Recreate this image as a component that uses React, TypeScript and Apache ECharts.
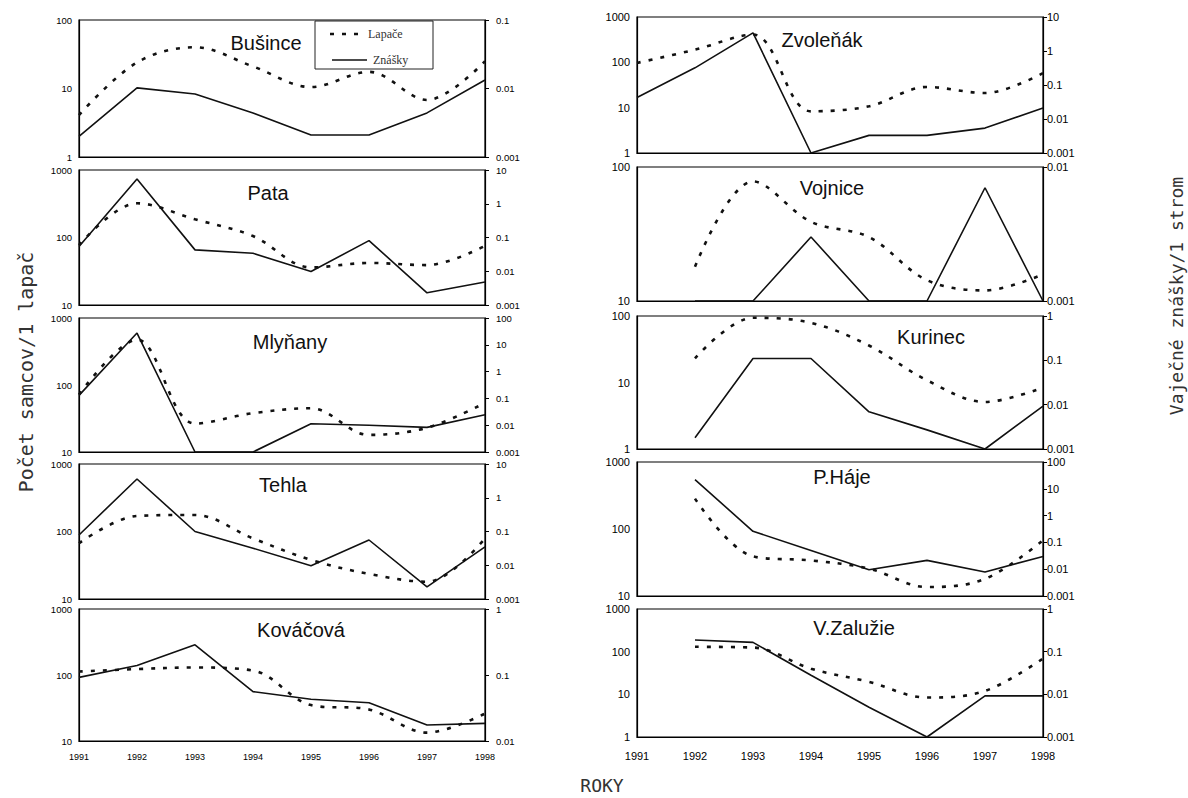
import React, { useEffect, useRef } from "react";
import * as echarts from "echarts";

const years = ["1991", "1992", "1993", "1994", "1995", "1996", "1997", "1998"];

// Lapače (males per trap, left axis) and Znášky (egg clutches per tree, right axis)
const businceLap = [4.1, 24, 40, 21, 10.5, 17.5, 6.8, 25];
const businceZn = [0.002, 0.0102, 0.0083, 0.0044, 0.0021, 0.0021, 0.0044, 0.0133];
const zvolenakLap = [97, 190, 410, 8.3, 10.7, 28.6, 21, 58];
const zvolenakZn = [0.043, 0.32, 3.4, 0.001, 0.0033, 0.0033, 0.0054, 0.021];
const pataLap = [77, 321, 186, 105, 36, 42, 39, 75];
const pataZn = [0.054, 5.4, 0.043, 0.034, 0.0098, 0.081, 0.0023, 0.0048];
const vojniceLap = [null, 18, 78, 39, 30, 14.3, 12, 15.8];
const vojniceZn = [null, 0.001, 0.001, 0.003, 0.001, 0.001, 0.007, 0.001];
const mlynanyLap = [72, 475, 26.5, 38, 45, 18, 23, 54];
const mlynanyZn = [0.13, 27.5, 0.001, 0.001, 0.0114, 0.0099, 0.0083, 0.0247];
const kurinecLap = [null, 23, 94, 79, 36, 10.8, 5.1, 8.4];
const kurinecZn = [null, 0.0018, 0.11, 0.11, 0.0069, 0.0027, 0.001, 0.0093];
const tehlaLap = [67, 170, 176, 79, 38, 23.5, 18, 79];
const tehlaZn = [0.079, 3.6, 0.1, 0.032, 0.0097, 0.056, 0.0023, 0.035];
const phajeLap = [null, 284, 39, 34, 25.6, 13.6, 18, 68];
const phajeZn = [null, 21.9, 0.26, 0.05, 0.0096, 0.0214, 0.0079, 0.03];
const kovacovaLap = [113, 123, 130, 117, 35, 30, 13.4, 26];
const kovacovaZn = [0.092, 0.139, 0.287, 0.056, 0.043, 0.038, 0.0175, 0.0185];
const zaluzieLap = [null, 130, 125, 40, 19.6, 8.4, 12, 69];
const zaluzieZn = [null, 0.187, 0.165, 0.028, 0.005, 0.001, 0.0092, 0.0092];

const panelNames = ["Bušince", "Zvoleňák", "Pata", "Vojnice", "Mlyňany", "Kurinec", "Tehla", "P.Háje", "Kováčová", "V.Zalužie"];
const lapSeries = [businceLap, zvolenakLap, pataLap, vojniceLap, mlynanyLap, kurinecLap, tehlaLap, phajeLap, kovacovaLap, zaluzieLap];
const znSeries = [businceZn, zvolenakZn, pataZn, vojniceZn, mlynanyZn, kurinecZn, tehlaZn, phajeZn, kovacovaZn, zaluzieZn];
const leftRanges = [[1, 100], [1, 1000], [10, 1000], [10, 100], [10, 1000], [1, 100], [10, 1000], [10, 1000], [10, 1000], [1, 1000]];
const rightRanges = [[0.001, 0.1], [0.001, 10], [0.001, 10], [0.001, 0.01], [0.001, 100], [0.001, 1], [0.001, 10], [0.001, 100], [0.01, 1], [0.001, 1]];

// layout: [left, top, bottom] of each plot area
const gridBoxes = [
  [79, 20, 157], [637, 17, 153],
  [79, 170, 305], [637, 167, 301],
  [79, 318, 452], [637, 316, 449],
  [79, 464, 599], [637, 462, 596],
  [79, 609, 741], [637, 609, 737],
];
const titlePos = [
  [266, 43], [822, 40], [268, 193], [832, 188], [290, 342],
  [931, 337], [283, 485], [842, 477], [301, 630], [854, 628],
];

const fmt = (v: number) => String(+Number(v).toPrecision(6));

export default function App() {
  const ref = useRef<HTMLDivElement>(null);
  useEffect(() => {
    const chart = echarts.init(ref.current!, null, { renderer: "svg" });
    const grids: any[] = [];
    const xAxes: any[] = [];
    const yAxes: any[] = [];
    const series: any[] = [];
    const graphics: any[] = [];
    panelNames.forEach((name, i) => {
      const [l, t, b] = gridBoxes[i];
      const rightCol = i % 2 === 1;
      const bottomRow = i >= 8;
      const fs = rightCol ? 11 : 9.5;
      grids.push({ left: l, top: t, width: 406, height: b - t, show: true, borderColor: "#000", borderWidth: 1.2, backgroundColor: "transparent" });
      xAxes.push({
        gridIndex: i, type: "category", data: years, boundaryGap: false,
        axisLine: { show: true, lineStyle: { color: "#000", width: 1.2 } },
        axisTick: { show: false },
        axisLabel: { show: bottomRow, interval: 0, fontSize: rightCol ? 11 : 9, color: "#000", fontFamily: "Liberation Sans", margin: rightCol ? 13 : 11 },
        splitLine: { show: false },
      });
      yAxes.push({
        gridIndex: i, type: "log", logBase: 10, min: leftRanges[i][0], max: leftRanges[i][1], position: "left",
        axisLine: { show: true, lineStyle: { color: "#000", width: 1.2 } },
        axisTick: { show: false },
        axisLabel: { fontSize: fs, color: "#000", fontFamily: "Liberation Sans", margin: 7, formatter: fmt },
        splitLine: { show: false }, minorTick: { show: false },
      });
      yAxes.push({
        gridIndex: i, type: "log", logBase: 10, min: rightRanges[i][0], max: rightRanges[i][1], position: "right",
        axisLine: { show: true, lineStyle: { color: "#000", width: 1.2 } },
        axisTick: { show: true, length: 4, lineStyle: { color: "#000" } },
        axisLabel: { fontSize: fs, color: "#000", fontFamily: "Liberation Sans", margin: rightCol ? 4 : 11, formatter: fmt },
        splitLine: { show: false }, minorTick: { show: false },
      });
      series.push({
        name: "Lapače", type: "line", xAxisIndex: i, yAxisIndex: 2 * i, data: lapSeries[i],
        symbol: "none", smooth: 0.35, connectNulls: false,
        lineStyle: { color: "#111", width: 2.6, type: [4, 8] },
      });
      series.push({
        name: "Znášky", type: "line", xAxisIndex: i, yAxisIndex: 2 * i + 1, data: znSeries[i],
        symbol: "none", smooth: false,
        lineStyle: { color: "#111", width: 1.6, type: "solid" },
      });
      graphics.push({
        type: "text", x: titlePos[i][0], y: titlePos[i][1],
        style: { text: name, fontSize: 20, fontFamily: "Liberation Sans", fill: "#111", textAlign: "center", textVerticalAlign: "middle" },
      });
    });
    // legend box
    graphics.push({ type: "rect", shape: { x: 315, y: 21, width: 118, height: 48 }, style: { fill: "#fff", stroke: "#222", lineWidth: 1 } });
    graphics.push({ type: "line", shape: { x1: 330, y1: 34, x2: 362, y2: 34 }, style: { stroke: "#111", lineWidth: 2.6, lineDash: [4, 8] } });
    graphics.push({ type: "line", shape: { x1: 332, y1: 60, x2: 367, y2: 60 }, style: { stroke: "#111", lineWidth: 1.6 } });
    graphics.push({ type: "text", x: 368, y: 34, style: { text: "Lapače", fontSize: 12, fontFamily: "Liberation Serif", fill: "#333", textVerticalAlign: "middle" } });
    graphics.push({ type: "text", x: 373, y: 60, style: { text: "Znášky", fontSize: 12, fontFamily: "Liberation Serif", fill: "#333", textVerticalAlign: "middle" } });
    // axis titles
    graphics.push({ type: "text", x: 26, y: 372, rotation: Math.PI / 2, style: { text: "Počet samcov/1 lapač", fontSize: 20, fontFamily: "DejaVu Sans Mono", fill: "#333", textAlign: "center", textVerticalAlign: "middle" } });
    graphics.push({ type: "text", x: 1176, y: 296, rotation: Math.PI / 2, style: { text: "Vaječné znášky/1 strom", fontSize: 18, fontFamily: "DejaVu Sans Mono", fill: "#333", textAlign: "center", textVerticalAlign: "middle" } });
    graphics.push({ type: "text", x: 602, y: 785, style: { text: "ROKY", fontSize: 18, fontFamily: "DejaVu Sans Mono", fill: "#333", textAlign: "center", textVerticalAlign: "middle" } });

    chart.setOption({
      animation: false,
      backgroundColor: "#fff",
      grid: grids,
      xAxis: xAxes,
      yAxis: yAxes,
      series,
      graphic: graphics,
    });
    return () => chart.dispose();
  }, []);
  return <div ref={ref} style={{ position: "absolute", left: 0, top: 0, width: 1188, height: 798 }} />;
}
